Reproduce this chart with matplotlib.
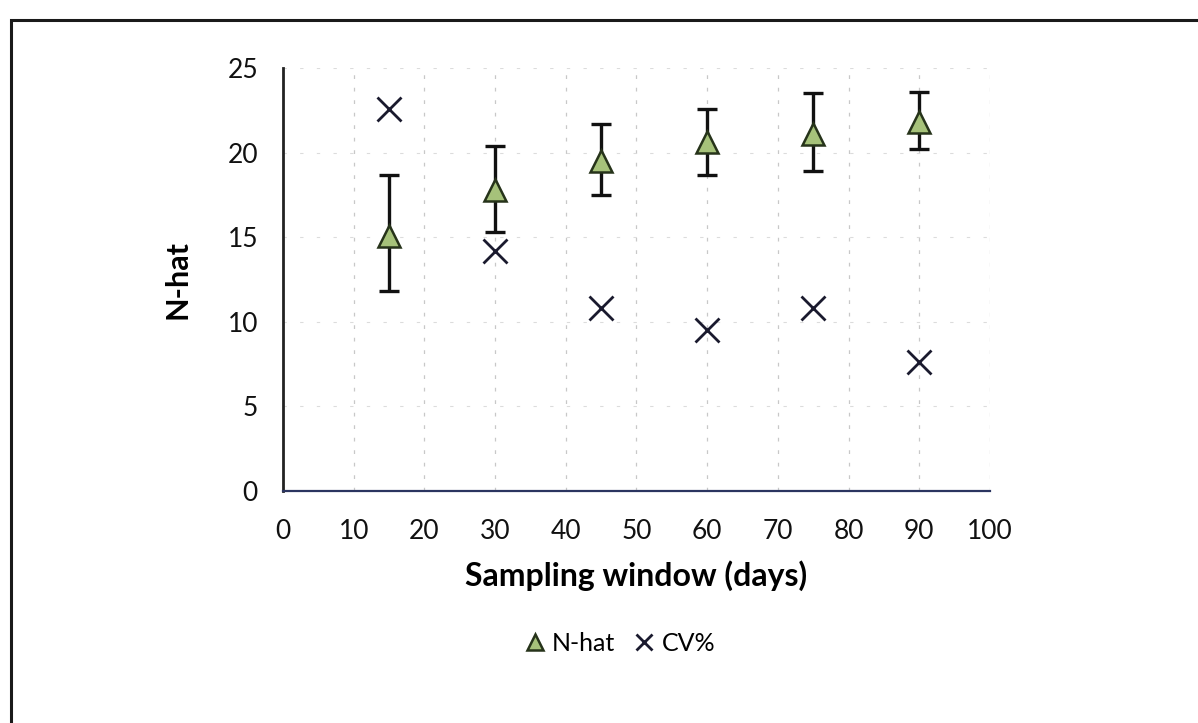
import numpy as np
import matplotlib.pyplot as plt
from matplotlib.patches import Rectangle

# sampling windows (days) and estimates
window_days = [15, 30, 45, 60, 75, 90]
n_hat = [15.1, 17.8, 19.5, 20.6, 21.1, 21.8]
ci_upper = [18.7, 20.4, 21.7, 22.6, 23.5, 23.6]
ci_lower = [11.8, 15.3, 17.5, 18.7, 18.9, 20.2]
cv_pct = [22.6, 14.2, 10.8, 9.5, 10.8, 7.6]

x_ticks = [0, 10, 20, 30, 40, 50, 60, 70, 80, 90, 100]
y_ticks = [0, 5, 10, 15, 20, 25]

plt.rcParams['font.family'] = ['Lato', 'DejaVu Sans']

fig = plt.figure(figsize=(11.98, 7.23), dpi=100)
ax = fig.add_axes([0.2362, 0.3209, 0.5902, 0.585])

n_hat = np.array(n_hat)
yerr = np.vstack([n_hat - np.array(ci_lower), np.array(ci_upper) - n_hat])

ax.errorbar(window_days, n_hat, yerr=yerr, fmt='none', ecolor='#111111',
            elinewidth=2.4, capsize=7, capthick=2.4, zorder=3)
ax.plot(window_days, n_hat, linestyle='none', marker='^', markersize=16,
        markerfacecolor='#a6c27a', markeredgecolor='#26331a',
        markeredgewidth=1.8, label='N-hat', zorder=4)
ax.plot(window_days, cv_pct, linestyle='none', marker='x', markersize=17,
        markeredgecolor='#1a1a2e', markeredgewidth=2.0, label='CV%', zorder=4)

ax.set_xlim(0, 100)
ax.set_ylim(0, 25)
ax.set_xticks(x_ticks)
ax.set_yticks(y_ticks)
ax.tick_params(length=0, labelsize=19, colors='#111111')
ax.tick_params(axis='x', pad=20)
ax.tick_params(axis='y', pad=18)

ax.xaxis.grid(True, linestyle=(0, (3, 7)), color='#c8c8c8', linewidth=0.9)
ax.yaxis.grid(True, linestyle=(0, (3, 12)), color='#dcdcdc', linewidth=0.8)
ax.set_axisbelow(True)
for side in ['top', 'right']:
    ax.spines[side].set_visible(False)
ax.spines['left'].set_color('#222222')
ax.spines['left'].set_linewidth(2.0)
ax.spines['bottom'].set_color('#2b3560')
ax.spines['bottom'].set_linewidth(1.6)

ax.set_xlabel('Sampling window (days)', fontsize=23, fontweight='bold',
              labelpad=12)
ax.set_ylabel('N-hat', fontsize=22, fontweight='bold', labelpad=26)

fig.legend(loc='center', bbox_to_anchor=(0.516, 0.11), ncol=2, frameon=False,
           fontsize=18, handletextpad=0.15, columnspacing=0.6,
           markerscale=0.7, handlelength=1.1)

# outer chart frame
fig.patches.append(Rectangle((0.009, -0.05), 1.1, 1.022, transform=fig.transFigure,
                             fill=False, edgecolor='#1a1a1a', linewidth=2.2))

fig.savefig('out.png', dpi=100, facecolor='white')
